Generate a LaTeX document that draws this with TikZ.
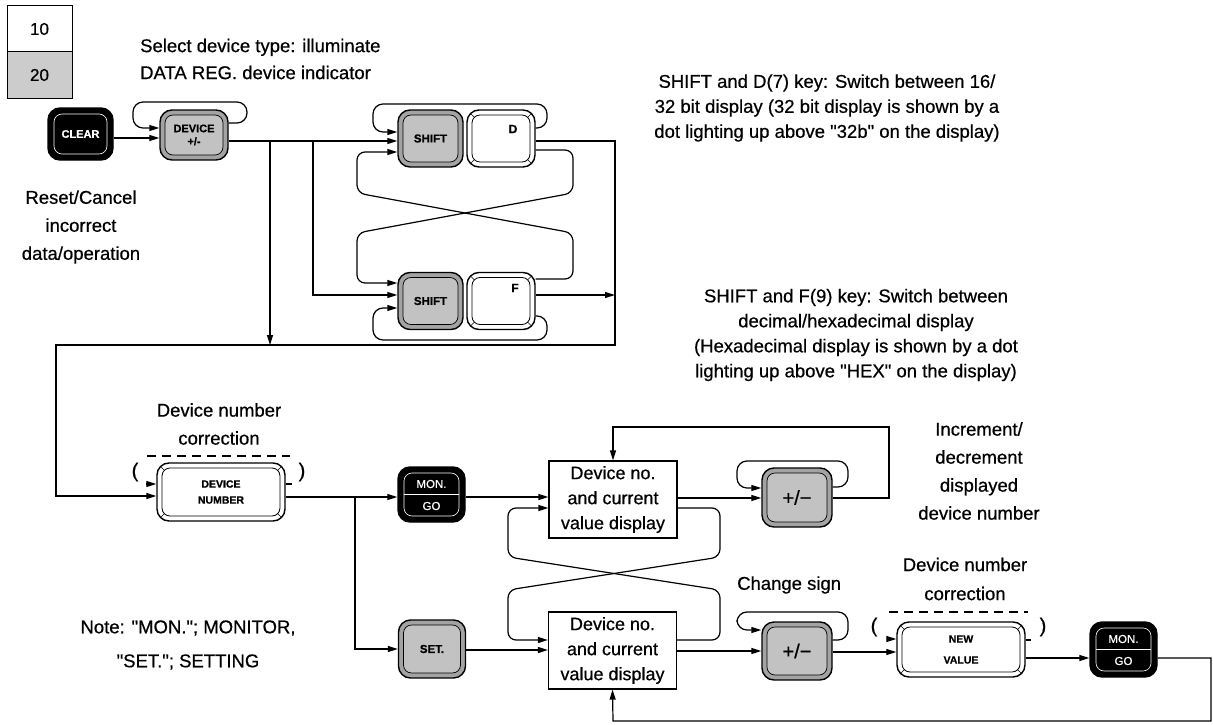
\documentclass[tikz,border=0pt]{standalone}
\usepackage{fontspec}
\setmainfont{Liberation Sans}[FakeBold=0.6]
\usetikzlibrary{arrows.meta}
\begin{document}
\begin{tikzpicture}[x=1pt,y=-1pt,
  con/.style={line width=1.2pt},
  arr/.style={con,-{Triangle[length=10pt,width=6pt]}},
  txt/.style={font=\fontsize{18.5}{26}\selectfont, align=center, inner sep=0pt},
  keytxt/.style={font=\bfseries\fontsize{11}{16}\selectfont},
  bevel/.style={line width=0.6pt},
  gkey/.style={draw, line width=1.4pt, rounded corners=12pt, fill=gray!72, inner sep=0pt, keytxt,
    path picture={
      \draw[rounded corners=8pt, fill=gray!48, line width=0.7pt]
        ([shift={(5pt,-5pt)}]path picture bounding box.north west) rectangle
        ([shift={(-5pt,5pt)}]path picture bounding box.south east);
    }},
  wkey/.style={draw, line width=1.4pt, rounded corners=12pt, fill=white, inner sep=0pt, keytxt,
    path picture={
      \draw[rounded corners=8pt, line width=0.8pt]
        ([shift={(5pt,-5pt)}]path picture bounding box.north west) rectangle
        ([shift={(-5pt,5pt)}]path picture bounding box.south east);
      \draw[bevel] ([shift={(2pt,-2pt)}]path picture bounding box.north west) -- ([shift={(7.5pt,-7.5pt)}]path picture bounding box.north west);
      \draw[bevel] ([shift={(-2pt,-2pt)}]path picture bounding box.north east) -- ([shift={(-7.5pt,-7.5pt)}]path picture bounding box.north east);
      \draw[bevel] ([shift={(2pt,2pt)}]path picture bounding box.south west) -- ([shift={(7.5pt,7.5pt)}]path picture bounding box.south west);
      \draw[bevel] ([shift={(-2pt,2pt)}]path picture bounding box.south east) -- ([shift={(-7.5pt,7.5pt)}]path picture bounding box.south east);
    }},
  bkey/.style={draw, line width=1.4pt, rounded corners=12pt, fill=black, text=white, inner sep=0pt, keytxt,
    path picture={
      \draw[white, rounded corners=8pt, line width=0.6pt]
        ([shift={(6pt,-6pt)}]path picture bounding box.north west) rectangle
        ([shift={(-6pt,6pt)}]path picture bounding box.south east);
    }},
  dispbox/.style={draw, line width=1.2pt, fill=white, minimum width=128pt, minimum height=77pt,
    align=center, font=\fontsize{18}{25}\selectfont, inner sep=0pt},
  paren/.style={font=\fontsize{20}{20}\selectfont, inner sep=0pt}
]
\useasboundingbox (0,0) rectangle (1213,725);

% legend
\fill[gray!40] (7,52) rectangle (72,98);
\draw[line width=1pt] (7,6) rectangle (72,98);
\draw[line width=1pt] (7,52) -- (72,52);
\node[txt, font=\fontsize{17}{20}\selectfont] (l10) at (39.5,29) {10};
\node[txt, font=\fontsize{17}{20}\selectfont] (l20) at (39.5,75) {20};

% keys
\node[bkey, minimum width=65pt, minimum height=52pt] (clear) at (80.5,134) {CLEAR};
\node[gkey, minimum width=68pt, minimum height=50pt, align=center] (devkey) at (194,135) {DEVICE\\[-3pt]+/-};
\node[gkey, minimum width=65pt, minimum height=57pt, font=\bfseries\fontsize{11.5}{14}\selectfont] (shiftA) at (430.5,138.5) {SHIFT};
\node[wkey, minimum width=68pt, minimum height=57pt] (dkey) at (501,138.5) {};
\node[font=\bfseries\fontsize{12}{14}\selectfont, inner sep=0pt] (dlab) at (513,129) {D};
\node[gkey, minimum width=65pt, minimum height=57pt, font=\bfseries\fontsize{11.5}{14}\selectfont] (shiftB) at (430.5,301) {SHIFT};
\node[wkey, minimum width=68pt, minimum height=57pt] (fkey) at (501,301) {};
\node[font=\bfseries\fontsize{12}{14}\selectfont, inner sep=0pt] (flab) at (515,288) {F};

\node[wkey, minimum width=128pt, minimum height=58pt, align=center, font=\bfseries\fontsize{10.5}{16}\selectfont] (devnum) at (221,492) {DEVICE\\NUMBER};
\node[bkey, minimum width=67pt, minimum height=55pt] (mongo1) at (431.5,494.5) {};
\draw[white, line width=0.8pt] ([xshift=7pt]mongo1.west) -- ([xshift=-7pt]mongo1.east);
\node[text=white, font=\fontsize{11.5}{14}\selectfont, inner sep=0pt] (mon1) at (431.5,484) {MON.};
\node[text=white, font=\fontsize{11.5}{14}\selectfont, inner sep=0pt] (go1) at (431.5,506) {GO};

\node[dispbox] (disp1) at (613,499.5) {Device no.\\and current\\value display};
\node[gkey, minimum width=70pt, minimum height=59pt, font=\fontsize{20}{22}\selectfont] (pm1) at (797,497.5) {+/−};

\node[gkey, minimum width=67pt, minimum height=58pt, font=\bfseries\fontsize{11.5}{14}\selectfont] (set) at (432,649) {SET.};
\node[dispbox] (disp2) at (612.5,650.5) {Device no.\\and current\\value display};
\node[gkey, minimum width=70pt, minimum height=58pt, font=\fontsize{20}{22}\selectfont] (pm2) at (797,651) {+/−};

\node[wkey, minimum width=128pt, minimum height=55pt, align=center, font=\bfseries\fontsize{10.5}{21}\selectfont] (newval) at (961,649.5) {NEW\\VALUE};
\node[bkey, minimum width=67pt, minimum height=55pt] (mongo2) at (1123.5,649.5) {};
\draw[white, line width=0.8pt] ([xshift=7pt]mongo2.west) -- ([xshift=-7pt]mongo2.east);
\node[text=white, font=\fontsize{11.5}{14}\selectfont, inner sep=0pt] (mon2) at (1123.5,639) {MON.};
\node[text=white, font=\fontsize{11.5}{14}\selectfont, inner sep=0pt] (go2) at (1123.5,661) {GO};

% texts
\node[txt, align=left, anchor=west, font=\fontsize{18.5}{27}\selectfont] (seltxt) at (140,59) {Select device type: illuminate\\DATA REG. device indicator};
\node[txt, font=\fontsize{18.5}{28}\selectfont] (resettxt) at (81,227) {Reset/Cancel\\incorrect\\data/operation};
\node[txt, font=\fontsize{18.5}{25}\selectfont] (shdtxt) at (827,108) {SHIFT and D(7) key: Switch between 16/\\32 bit display (32 bit display is shown by a\\dot lighting up above \textquotedbl 32b\textquotedbl{} on the display)};
\node[txt, font=\fontsize{18.5}{25}\selectfont] (shftxt) at (856,335) {SHIFT and F(9) key: Switch between\\decimal/hexadecimal display\\(Hexadecimal display is shown by a dot\\lighting up above \textquotedbl HEX\textquotedbl{} on the display)};
\node[txt, font=\fontsize{18.5}{28}\selectfont] (dnc1) at (219,424) {Device number\\correction};
\node[txt, font=\fontsize{18.5}{28}\selectfont] (inctxt) at (979,471) {Increment/\\decrement\\displayed\\device number};
\node[txt, anchor=west] (chg) at (737,585) {Change sign};
\node[txt, font=\fontsize{18.5}{29}\selectfont] (dnc2) at (965,579) {Device number\\correction};
\node[txt, font=\fontsize{18.5}{34}\selectfont] (note) at (188,645) {Note: \textquotedbl MON.\textquotedbl; MONITOR,\\\textquotedbl SET.\textquotedbl; SETTING};

% parentheses and dashed brackets
\node[paren] (p1) at (135,472) {(};
\node[paren] (p2) at (302,472) {)};
\draw[con, dash pattern=on 9pt off 6pt] (147,456) -- (290,456);
\draw[arr] (146,484) -- (devnum.west|-0,484);
\draw[con] (devnum.east|-0,484) -- (292,484);
\node[paren] (p3) at (874,627) {(};
\node[paren] (p4) at (1043,627) {)};
\draw[con, dash pattern=on 9pt off 6pt] (889,612) -- (1028,612);
\draw[arr] (888,639) -- (newval.west|-0,639);
\draw[con] (newval.east|-0,640) -- (1031,640);

% connectors top
\draw[arr] (clear.east|-0,138) -- (devkey.west|-0,138);
\draw[arr, rounded corners=10pt] (devkey.east|-0,123) -- (247,123) -- (247,102) -- (133,102) -- (133,128) -- (devkey.west|-0,128);
\draw[arr] (devkey.east|-0,141) -- (shiftA.west|-0,141);
\draw[arr] (270,141) -- (270,345);
\draw[arr] (313,141) |- (shiftB.west|-0,295);
\draw[arr, rounded corners=10pt] (dkey.east|-0,128) -- (547,128) -- (547,104) -- (373,104) -- (373,132) -- (shiftA.west|-0,132);
\draw[arr] (dkey.east|-0,141) -- (615,141) -- (615,345) -- (56,345) -- (56,496) -- (devnum.west|-0,496);
\draw[arr] (fkey.east|-0,295) -- (615,295);
\draw[arr, rounded corners=10pt] (fkey.east|-0,316) -- (547,316) -- (547,340) -- (373,340) -- (373,308) -- (shiftB.west|-0,308);
\draw[arr, rounded corners=8pt] (dkey.east|-0,150) -- (573,150) -- (573,193) -- (357,233) -- (357,283) -- (shiftB.west|-0,283);
\draw[arr, rounded corners=8pt] (fkey.east|-0,279) -- (573,279) -- (573,233) -- (357,193) -- (357,152) -- (shiftA.west|-0,152);

% connectors bottom
\draw[arr] (devnum.east|-0,497) -- (mongo1.west|-0,497);
\draw[arr] (355,497) |- (set.west|-0,649);
\draw[arr] (mongo1.east|-0,497) -- (disp1.west|-0,497);
\draw[arr] (disp1.east|-0,498) -- (pm1.west|-0,498);
\draw[arr, rounded corners=10pt] (pm1.east|-0,487) -- (848,487) -- (848,461) -- (737,461) -- (737,488) -- (pm1.west|-0,488);
\draw[arr] (pm1.east|-0,498) -- (889,498) -- (889,427) -- (613,427) -- (disp1.north);
\draw[arr, rounded corners=8pt] (disp1.east|-0,508) -- (720,508) -- (720,557) -- (508,590) -- (508,640) -- (disp2.west|-0,640);
\draw[arr, rounded corners=8pt] (disp2.east|-0,640) -- (720,640) -- (720,590) -- (508,557) -- (508,508) -- (disp1.west|-0,508);
\draw[arr] (set.east|-0,650) -- (disp2.west|-0,650);
\draw[arr] (disp2.east|-0,651) -- (pm2.west|-0,651);
\draw[arr, rounded corners=10pt] (pm2.east|-0,640) -- (848,640) -- (848,612) -- (737,612) -- (737,630) -- (pm2.west|-0,630);
\draw[arr] (pm2.east|-0,652) -- (newval.west|-0,652);
\draw[arr] (newval.east|-0,658) -- (mongo2.west|-0,658);
\draw[arr] (mongo2.east|-0,658) -- (1211,658) -- (1211,721) -- (613,721) -- (disp2.south);
\end{tikzpicture}
\end{document}
